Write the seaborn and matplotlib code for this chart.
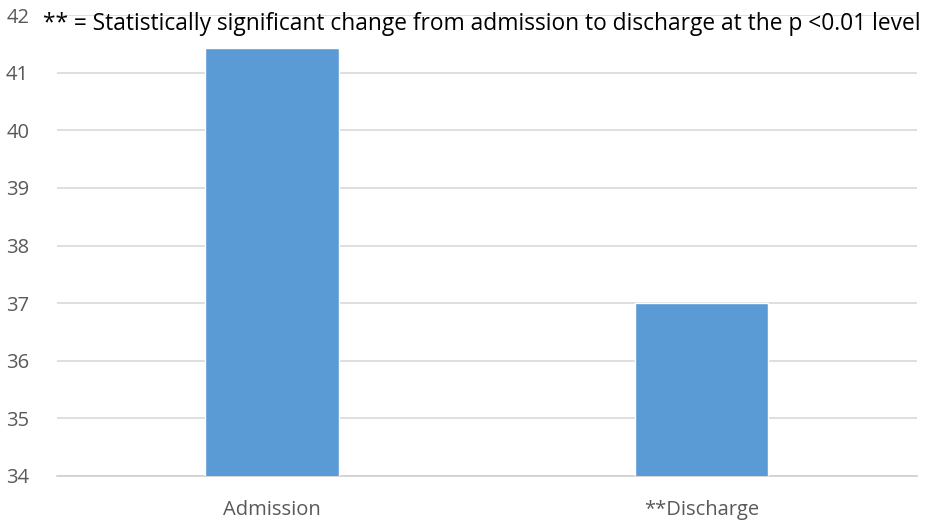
import matplotlib
matplotlib.use("Agg")
import matplotlib.pyplot as plt
import seaborn as sns
import pandas as pd
from matplotlib import font_manager

# Chart data
categories = ["Admission", "**Discharge"]
values = [41.43, 37.0]
y_ticks = [34, 35, 36, 37, 38, 39, 40, 41, 42]
note = "** = Statistically significant change from admission to discharge at the p <0.01 level"

df = pd.DataFrame({"stage": categories, "score": values})

sns.set_theme(style="white")
plt.rcParams["font.family"] = ["Open Sans", "DejaVu Sans"]

fig = plt.figure(figsize=(9.27, 5.23), dpi=100)
ax = fig.add_axes([0.0615, 0.0899, 0.9275, 0.8811])

sns.barplot(data=df, x="stage", y="score", color="#5b9bd5", width=0.31,
            saturation=1, ax=ax, zorder=3)

ax.set_ylim(34, 42)
ax.set_xlim(-0.5, 1.5)
ax.set_yticks(y_ticks)
ax.yaxis.grid(True, color="#d9d9d9", linewidth=1.2, zorder=0)
ax.set_axisbelow(True)
for side in ["top", "right", "left"]:
    ax.spines[side].set_visible(False)
ax.spines["bottom"].set_color("#d0d0d0")
ax.spines["bottom"].set_linewidth(1.2)
ax.set_xlabel("")
ax.set_ylabel("")
ax.tick_params(axis="both", length=0, labelsize=14.5, colors="#595959")
ax.tick_params(axis="y", pad=20)
ax.tick_params(axis="x", pad=17)

# footnote drawn over the top gridline, as in the original
names = {f.name for f in font_manager.fontManager.ttflist}
narrow = "Liberation Sans Narrow" if "Liberation Sans Narrow" in names else "Open Sans"
fig.text(0.0464, 0.943, note, fontsize=16.4, color="#000000",
         family=[narrow, "DejaVu Sans"], ha="left", va="baseline")

fig.savefig("out.png", dpi=100)
